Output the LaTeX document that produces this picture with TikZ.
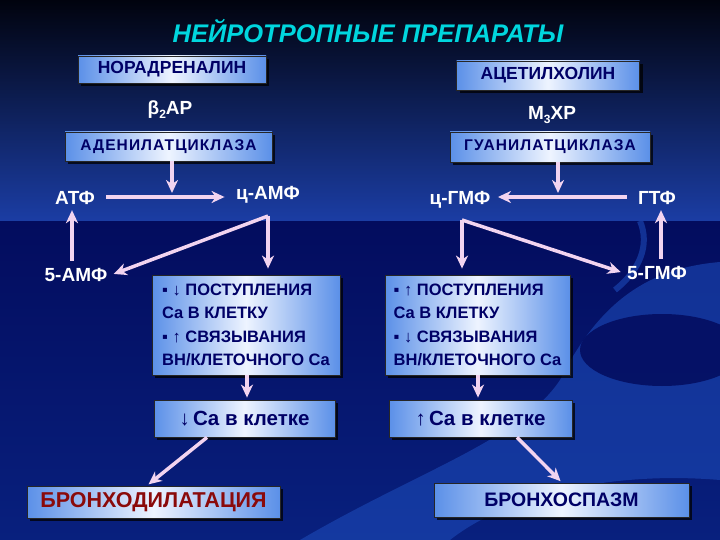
\documentclass[tikz,border=0pt]{standalone}
\usepackage{fontspec}
\setmainfont{Liberation Sans}
\usetikzlibrary{arrows.meta,shadows}
\definecolor{navytext}{HTML}{000066}
\definecolor{arrowpink}{HTML}{F2D4F0}
\definecolor{titlecyan}{HTML}{00D6DE}
\definecolor{bgtop}{HTML}{01030E}
\definecolor{bgmid}{HTML}{1B3DA4}
\definecolor{bglow}{HTML}{030C5E}
\definecolor{bgfloor}{HTML}{08207E}
\definecolor{swoosh}{HTML}{1C4AB8}
\definecolor{boxedge}{HTML}{5B90E8}
\definecolor{boxmid}{HTML}{EEF4FF}
\definecolor{effectred}{HTML}{8A0A0A}
\tikzset{
  box/.style={draw=black!85, line width=0.8pt, left color=boxedge, right color=boxedge,
    middle color=boxmid, text=navytext, font=\bfseries, inner sep=0pt,
    drop shadow={shadow xshift=3pt, shadow yshift=-3pt, fill=black, opacity=0.75}},
  lbl/.style={text=white, font=\bfseries\fontsize{19}{22}\selectfont},
  arr/.style={draw=arrowpink, line width=3.5pt, -{Stealth[length=13pt,width=12pt,inset=4pt]}},
}
\begin{document}
\begin{tikzpicture}[x=1pt,y=-1pt]
  \useasboundingbox (0,0) rectangle (720,540);
  \fill[bglow] (0,0) rectangle (720,540);
  \shade[top color=bglow, bottom color=bgfloor] (0,221) rectangle (720,540);
  \fill[swoosh, opacity=0.6] (300,540) .. controls (420,470) and (520,440) .. (560,380)
    .. controls (600,300) and (650,268) .. (720,262) -- (720,480)
    .. controls (600,470) and (500,500) .. (450,540) -- cycle;
  \fill[bglow, opacity=0.85] (662,350) ellipse (82 and 36);
  \draw[swoosh, line width=6pt, opacity=0.6] (640,221) .. controls (650,245) and (640,270) .. (615,290);
  \shade[top color=bgtop, bottom color=bgmid] (0,0) rectangle (720,221);

  \node[text=titlecyan, font=\bfseries\itshape\fontsize{25.5}{27}\selectfont] (title) at (368,31) {НЕЙРОТРОПНЫЕ ПРЕПАРАТЫ};

  \node[box, minimum width=188pt, minimum height=27pt, font=\bfseries\fontsize{17.5}{19}\selectfont] (nor) at (172,69.5) {НОРАДРЕНАЛИН};
  \node[box, minimum width=183pt, minimum height=29pt, font=\bfseries\fontsize{17.5}{19}\selectfont] (ach) at (548,75.5) {АЦЕТИЛХОЛИН};
  \node[lbl] (b2ar) at (170,110) {β\raisebox{-0.35ex}{\fontsize{12}{12}\selectfont 2}АР};
  \node[lbl] (m3xr) at (552,115) {М\raisebox{-0.35ex}{\fontsize{12}{12}\selectfont 3}ХР};
  \node[box, minimum width=207pt, minimum height=29pt, font=\bfseries\fontsize{15.5}{17}\selectfont\addfontfeature{LetterSpace=7}] (adc) at (168.5,146.5) {АДЕНИЛАТЦИКЛАЗА};
  \node[box, minimum width=200pt, minimum height=30pt, font=\bfseries\fontsize{15.5}{17}\selectfont\addfontfeature{LetterSpace=7}] (gc) at (550,147) {ГУАНИЛАТЦИКЛАЗА};

  \node[lbl] (atf) at (75,198) {АТФ};
  \node[lbl] (camp) at (268,195) {ц-АМФ};
  \node[lbl] (amp5) at (76,275) {5-АМФ};
  \node[lbl] (cgmp) at (460,200) {ц-ГМФ};
  \node[lbl] (gtf) at (657,198) {ГТФ};
  \node[lbl] (gmp5) at (657,273) {5-ГМФ};

  \node[box, minimum width=188pt, minimum height=100pt, align=left, font=\bfseries\fontsize{16.5}{23.5}\selectfont] (boxL) at (246,325)
    {▪ ↓ ПОСТУПЛЕНИЯ\\Ca В КЛЕТКУ\\▪ ↑ СВЯЗЫВАНИЯ\\ВН/КЛЕТОЧНОГО Ca};
  \node[box, minimum width=185pt, minimum height=100pt, align=left, font=\bfseries\fontsize{16.5}{23.5}\selectfont] (boxR) at (477.5,325)
    {▪ ↑ ПОСТУПЛЕНИЯ\\Ca В КЛЕТКУ\\▪ ↓ СВЯЗЫВАНИЯ\\ВН/КЛЕТОЧНОГО Ca};
  \node[box, minimum width=181pt, minimum height=37pt, font=\bfseries\fontsize{20.5}{22}\selectfont] (caL) at (244.5,418.5) {{\mdseries↓}\,Ca в клетке};
  \node[box, minimum width=183pt, minimum height=37pt, font=\bfseries\fontsize{20.5}{22}\selectfont] (caR) at (480.5,418.5) {{\mdseries↑}\,Ca в клетке};
  \node[box, minimum width=253pt, minimum height=32pt, text=effectred, font=\bfseries\fontsize{21.5}{23}\selectfont] (bdil) at (153.5,502) {БРОНХОДИЛАТАЦИЯ};
  \node[box, minimum width=255pt, minimum height=34pt, font=\bfseries\fontsize{19.5}{21}\selectfont] (bsp) at (561.5,500) {БРОНХОСПАЗМ};

  \coordinate (atpmid) at (172,197);
  \coordinate (gtpmid) at (558,197);
  \coordinate (campfork) at (268,216);
  \coordinate (cgmpfork) at (462,220);

  \draw[arr] (atf.east |- atpmid) ++(8,0) -- ([xshift=-8pt]camp.west |- atpmid);
  \draw[arr, shorten >=4pt] (adc.south -| atpmid) -- (atpmid);
  \draw[arr, shorten >=6pt] (campfork) -- (boxL.north -| campfork);
  \draw[arr, shorten >=3pt] (campfork) -- (amp5.east);
  \draw[arr, shorten <=4pt, shorten >=2pt] (amp5.north -| 72,0) -- (atf.south -| 72,0);

  \draw[arr] ([xshift=-8pt]gtf.west |- gtpmid) -- ([xshift=4pt]cgmp.east |- gtpmid);
  \draw[arr, shorten >=4pt] (gc.south -| gtpmid) -- (gtpmid);
  \draw[arr, shorten >=6pt] (cgmpfork) -- (boxR.north -| cgmpfork);
  \draw[arr, shorten >=3pt] (cgmpfork) -- (gmp5.west);
  \draw[arr, shorten <=4pt, shorten >=2pt] (gmp5.north -| 661,0) -- (gtf.south -| 661,0);

  \draw[arr, shorten >=2pt] (boxL.south -| 247,0) -- (caL.north -| 247,0);
  \draw[arr, shorten >=2pt] (boxR.south -| 478,0) -- (caR.north -| 478,0);
  \draw[arr, shorten >=2pt] (caL.south -| 207,0) -- (bdil.north -| 147,0);
  \draw[arr, shorten >=2pt] (caR.south -| 517,0) -- (bsp.north -| 562,0);
\end{tikzpicture}
\end{document}
